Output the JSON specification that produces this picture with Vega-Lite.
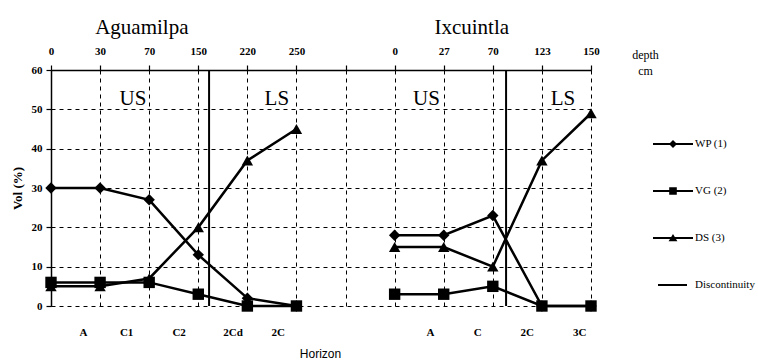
{
  "$schema": "https://vega.github.io/schema/vega-lite/v6.json",
  "width": 540,
  "height": 236,
  "autosize": "none",
  "padding": {"left": 51, "top": 70, "right": 167, "bottom": 55},
  "background": "white",
  "config": {
    "view": {"stroke": null},
    "font": "Liberation Serif",
    "axis": {
      "labelColor": "black",
      "labelFont": "Liberation Serif",
      "labelFontSize": 11,
      "labelFontWeight": "bold",
      "titleColor": "black",
      "domainColor": "black",
      "tickColor": "black",
      "gridColor": "black",
      "gridDash": [4, 4],
      "gridWidth": 1,
      "gridOpacity": 1,
      "labelFlush": false,
      "labelOverlap": false,
      "labelBound": false
    }
  },
  "datasets": {
    "series": [
      {"site": "Aguamilpa", "pos": 0, "series": "WP (1)", "vol": 30},
      {"site": "Aguamilpa", "pos": 1, "series": "WP (1)", "vol": 30},
      {"site": "Aguamilpa", "pos": 2, "series": "WP (1)", "vol": 27},
      {"site": "Aguamilpa", "pos": 3, "series": "WP (1)", "vol": 13},
      {"site": "Aguamilpa", "pos": 4, "series": "WP (1)", "vol": 2},
      {"site": "Aguamilpa", "pos": 5, "series": "WP (1)", "vol": 0},
      {"site": "Aguamilpa", "pos": 0, "series": "VG (2)", "vol": 6},
      {"site": "Aguamilpa", "pos": 1, "series": "VG (2)", "vol": 6},
      {"site": "Aguamilpa", "pos": 2, "series": "VG (2)", "vol": 6},
      {"site": "Aguamilpa", "pos": 3, "series": "VG (2)", "vol": 3},
      {"site": "Aguamilpa", "pos": 4, "series": "VG (2)", "vol": 0},
      {"site": "Aguamilpa", "pos": 5, "series": "VG (2)", "vol": 0},
      {"site": "Aguamilpa", "pos": 0, "series": "DS (3)", "vol": 5},
      {"site": "Aguamilpa", "pos": 1, "series": "DS (3)", "vol": 5},
      {"site": "Aguamilpa", "pos": 2, "series": "DS (3)", "vol": 7},
      {"site": "Aguamilpa", "pos": 3, "series": "DS (3)", "vol": 20},
      {"site": "Aguamilpa", "pos": 4, "series": "DS (3)", "vol": 37},
      {"site": "Aguamilpa", "pos": 5, "series": "DS (3)", "vol": 45},
      {"site": "Ixcuintla", "pos": 7, "series": "WP (1)", "vol": 18},
      {"site": "Ixcuintla", "pos": 8, "series": "WP (1)", "vol": 18},
      {"site": "Ixcuintla", "pos": 9, "series": "WP (1)", "vol": 23},
      {"site": "Ixcuintla", "pos": 10, "series": "WP (1)", "vol": 0},
      {"site": "Ixcuintla", "pos": 11, "series": "WP (1)", "vol": 0},
      {"site": "Ixcuintla", "pos": 7, "series": "VG (2)", "vol": 3},
      {"site": "Ixcuintla", "pos": 8, "series": "VG (2)", "vol": 3},
      {"site": "Ixcuintla", "pos": 9, "series": "VG (2)", "vol": 5},
      {"site": "Ixcuintla", "pos": 10, "series": "VG (2)", "vol": 0},
      {"site": "Ixcuintla", "pos": 11, "series": "VG (2)", "vol": 0},
      {"site": "Ixcuintla", "pos": 7, "series": "DS (3)", "vol": 15},
      {"site": "Ixcuintla", "pos": 8, "series": "DS (3)", "vol": 15},
      {"site": "Ixcuintla", "pos": 9, "series": "DS (3)", "vol": 10},
      {"site": "Ixcuintla", "pos": 10, "series": "DS (3)", "vol": 37},
      {"site": "Ixcuintla", "pos": 11, "series": "DS (3)", "vol": 49}
    ],
    "disc": [
      {"site": "Aguamilpa", "pos": 3.22},
      {"site": "Ixcuintla", "pos": 9.27}
    ],
    "notes": [
      {"kind": "site", "text": "Aguamilpa", "pos": 1.85, "vol": 70.8},
      {"kind": "site", "text": "Ixcuintla", "pos": 8.57, "vol": 70.8},
      {"kind": "layer", "text": "US", "pos": 1.67, "vol": 52.6},
      {"kind": "layer", "text": "LS", "pos": 4.6, "vol": 52.6},
      {"kind": "layer", "text": "US", "pos": 7.65, "vol": 52.6},
      {"kind": "layer", "text": "LS", "pos": 10.43, "vol": 52.6}
    ]
  },
  "layer": [
    {
      "data": {"name": "series"},
      "mark": {"type": "line", "color": "black", "strokeWidth": 2.5},
      "encoding": {
        "x": {
          "field": "pos", "type": "quantitative",
          "scale": {"domain": [0, 11], "nice": false, "zero": false},
          "axis": {
            "orient": "top",
            "values": [0, 1, 2, 3, 4, 5, 6, 7, 8, 9, 10, 11],
            "labelExpr": "['0','30','70','150','220','250','','0','27','70','123','150'][datum.value]",
            "grid": true,
            "domainWidth": 1.5,
            "tickSize": 5,
            "tickWidth": 1.2,
            "labelPadding": 9,
            "title": ["depth", "cm"],
            "titleX": 594,
            "titleY": -21,
            "titleAngle": 0,
            "titleAlign": "center",
            "titleBaseline": "top",
            "titleFont": "Liberation Serif",
            "titleFontSize": 12,
            "titleFontWeight": "normal",
            "titleLineHeight": 16
          }
        },
        "y": {
          "field": "vol", "type": "quantitative",
          "scale": {"domain": [0, 60], "nice": false},
          "axis": {
            "values": [0, 10, 20, 30, 40, 50, 60],
            "grid": true,
            "domainWidth": 1.5,
            "tickSize": 5,
            "tickWidth": 1.2,
            "labelPadding": 4,
            "title": "Vol (%)",
            "titleX": -34,
            "titleY": 118,
            "titleAngle": -90,
            "titleAlign": "center",
            "titleBaseline": "middle",
            "titleFont": "Liberation Serif",
            "titleFontSize": 13,
            "titleFontWeight": "bold"
          }
        },
        "detail": [{"field": "site"}, {"field": "series"}]
      }
    },
    {
      "data": {"name": "series"},
      "mark": {"type": "point", "filled": true, "color": "black", "opacity": 1, "size": 130},
      "encoding": {
        "x": {"field": "pos", "type": "quantitative", "axis": null},
        "y": {"field": "vol", "type": "quantitative", "axis": null},
        "shape": {
          "field": "series", "type": "nominal",
          "scale": {
            "domain": ["WP (1)", "VG (2)", "DS (3)"],
            "range": ["diamond", "square", "triangle-up"]
          },
          "legend": null
        }
      }
    },
    {
      "data": {"name": "series"},
      "transform": [{"filter": "false"}],
      "mark": {"type": "point", "filled": true, "color": "black", "opacity": 1},
      "encoding": {
        "x": {"field": "pos", "type": "quantitative", "axis": null},
        "y": {"field": "vol", "type": "quantitative", "axis": null},
        "shape": {
          "field": "series", "type": "nominal",
          "scale": {
            "domain": ["WP (1)", "VG (2)", "DS (3)", "Discontinuity"],
            "range": [
              "M-1,-0.055L1,-0.055L1,0.055L-1,0.055ZM0,-0.2L0.2,0L0,0.2L-0.2,0Z",
              "M-1,-0.055L1,-0.055L1,0.055L-1,0.055ZM-0.19,-0.19L0.19,-0.19L0.19,0.19L-0.19,0.19Z",
              "M-1,-0.055L1,-0.055L1,0.055L-1,0.055ZM0,-0.2L0.22,0.16L-0.22,0.16Z",
              "M-0.75,-0.05L0.7,-0.05L0.7,0.05L-0.75,0.05Z"
            ]
          },
          "legend": {
            "orient": "none",
            "legendX": 602,
            "legendY": 54,
            "title": null,
            "padding": 0,
            "symbolSize": 1600,
            "symbolFillColor": "black",
            "symbolStrokeColor": "black",
            "symbolStrokeWidth": 0,
            "rowPadding": 22,
            "labelFont": "Liberation Serif",
            "labelFontSize": 11,
            "labelColor": "black",
            "labelOffset": 2,
            "labelLimit": 0
          }
        }
      }
    },
    {
      "data": {"name": "disc"},
      "mark": {"type": "rule", "color": "black", "strokeWidth": 2},
      "encoding": {
        "x": {
          "field": "pos", "type": "quantitative",
          "axis": {
            "orient": "bottom",
            "values": [0.65, 1.53, 2.6, 3.7, 4.62, 7.72, 8.68, 9.69, 10.76],
            "labelExpr": "['A','C1','C2','2Cd','2C','A','C','2C','3C'][indexof([0.65, 1.53, 2.6, 3.7, 4.62, 7.72, 8.68, 9.69, 10.76], datum.value)]",
            "grid": false,
            "domain": false,
            "ticks": false,
            "tickSize": 0,
            "labelPadding": 20,
            "title": "Horizon",
            "titleX": 269,
            "titleY": 47,
            "titleAngle": 0,
            "titleAlign": "center",
            "titleBaseline": "middle",
            "titleFont": "Liberation Sans",
            "titleFontSize": 12,
            "titleFontWeight": "normal"
          }
        }
      }
    },
    {
      "data": {"name": "notes"},
      "transform": [{"filter": "datum.kind === 'site'"}],
      "mark": {"type": "text", "font": "Liberation Serif", "fontSize": 21, "color": "black", "baseline": "middle", "align": "center"},
      "encoding": {
        "x": {"field": "pos", "type": "quantitative", "axis": null},
        "y": {"field": "vol", "type": "quantitative", "axis": null},
        "text": {"field": "text"}
      }
    },
    {
      "data": {"name": "notes"},
      "transform": [{"filter": "datum.kind === 'layer'"}],
      "mark": {"type": "text", "font": "Liberation Serif", "fontSize": 21, "color": "black", "baseline": "middle", "align": "center"},
      "encoding": {
        "x": {"field": "pos", "type": "quantitative", "axis": null},
        "y": {"field": "vol", "type": "quantitative", "axis": null},
        "text": {"field": "text"}
      }
    }
  ],
  "resolve": {
    "axis": {"x": "independent", "y": "independent"},
    "scale": {"shape": "independent"}
  }
}
